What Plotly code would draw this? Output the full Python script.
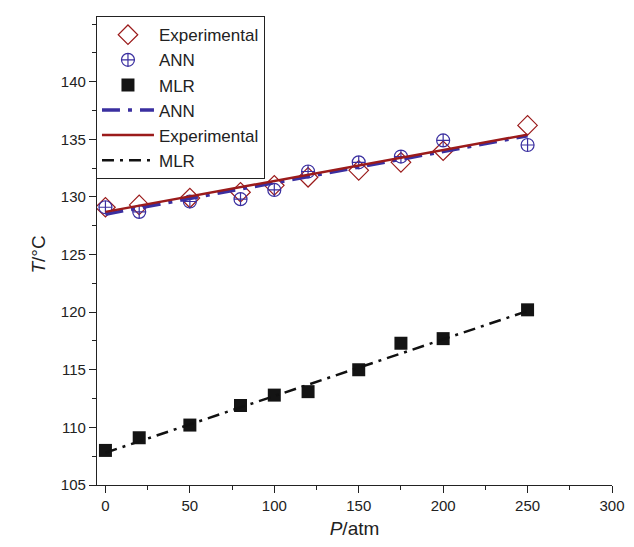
import plotly.graph_objects as go

# pressure values (atm)
pressure = [0, 20, 50, 80, 100, 120, 150, 175, 200, 250]

# measured / predicted temperatures (deg C)
t_experimental = [129.1, 129.3, 129.9, 130.4, 131.0, 131.7, 132.3, 133.0, 134.0, 136.2]
t_ann = [129.1, 128.7, 129.6, 129.8, 130.6, 132.2, 133.0, 133.5, 134.9, 134.5]
t_mlr = [108.0, 109.1, 110.2, 111.9, 112.8, 113.1, 115.0, 117.3, 117.7, 120.2]

# fitted lines (endpoints)
fit_p = [0, 250]
fit_ann = [128.5, 135.3]
fit_experimental = [128.7, 135.4]
fit_mlr = [107.8, 120.1]

y_ticks = [105, 110, 115, 120, 125, 130, 135, 140]
x_ticks = [0, 50, 100, 150, 200, 250, 300]

red = '#9b1b1b'
blue = '#3a2fa0'
font = 'Liberation Sans, Arial, sans-serif'

fig = go.Figure()

fig.add_trace(go.Scatter(
    x=pressure, y=t_experimental, mode='markers', name='Experimental',
    marker=dict(symbol='diamond-open', size=15, color=red, line=dict(width=1.2))
))
fig.add_trace(go.Scatter(
    x=pressure, y=t_ann, mode='markers', name='ANN',
    marker=dict(symbol='circle-cross-open', size=13, color=blue, line=dict(width=1.2))
))
fig.add_trace(go.Scatter(
    x=pressure, y=t_mlr, mode='markers', name='MLR',
    marker=dict(symbol='square', size=13, color='#141414')
))
fig.add_trace(go.Scatter(
    x=fit_p, y=fit_ann, mode='lines', name='ANN',
    line=dict(color=blue, width=3.5, dash='18px,8px,4px,8px')
))
fig.add_trace(go.Scatter(
    x=fit_p, y=fit_experimental, mode='lines', name='Experimental',
    line=dict(color=red, width=2.5)
))
fig.add_trace(go.Scatter(
    x=fit_p, y=fit_mlr, mode='lines', name='MLR',
    line=dict(color='#111111', width=2.5, dash='12px,6px,3px,6px')
))

# page body has an 8px margin, so the figure is shrunk by that much
fig.update_layout(
    width=626, height=539,
    margin=dict(l=89, r=22, t=8, b=62),
    plot_bgcolor='white',
    paper_bgcolor='white',
    font=dict(family=font, size=15, color='#222222'),
    showlegend=True,
    legend=dict(
        x=-0.002, y=1.017, xanchor='left', yanchor='top',
        bordercolor='#222222', borderwidth=1, bgcolor='white',
        font=dict(size=17, color='#222222'),
        itemwidth=52, tracegroupgap=0
    ),
    xaxis=dict(
        range=[-5, 300], tickvals=x_ticks, automargin=False,
        showline=True, linecolor='#222222', linewidth=1.2,
        ticks='outside', ticklen=7, tickcolor='#222222',
        minor=dict(dtick=25, tick0=0, ticks='outside', ticklen=4, tickcolor='#222222'),
        showgrid=False, zeroline=False,
        title=dict(text='<i>P</i>/atm', font=dict(size=19), standoff=8)
    ),
    yaxis=dict(
        range=[105, 145], tickvals=y_ticks, automargin=False,
        showline=True, linecolor='#222222', linewidth=1.2,
        ticks='outside', ticklen=7, tickcolor='#222222',
        minor=dict(dtick=2.5, tick0=105, ticks='outside', ticklen=4, tickcolor='#222222'),
        showgrid=False, zeroline=False,
        title=dict(text='<i>T</i>/°C', font=dict(size=19), standoff=10)
    )
)

fig.write_html("out.html")
